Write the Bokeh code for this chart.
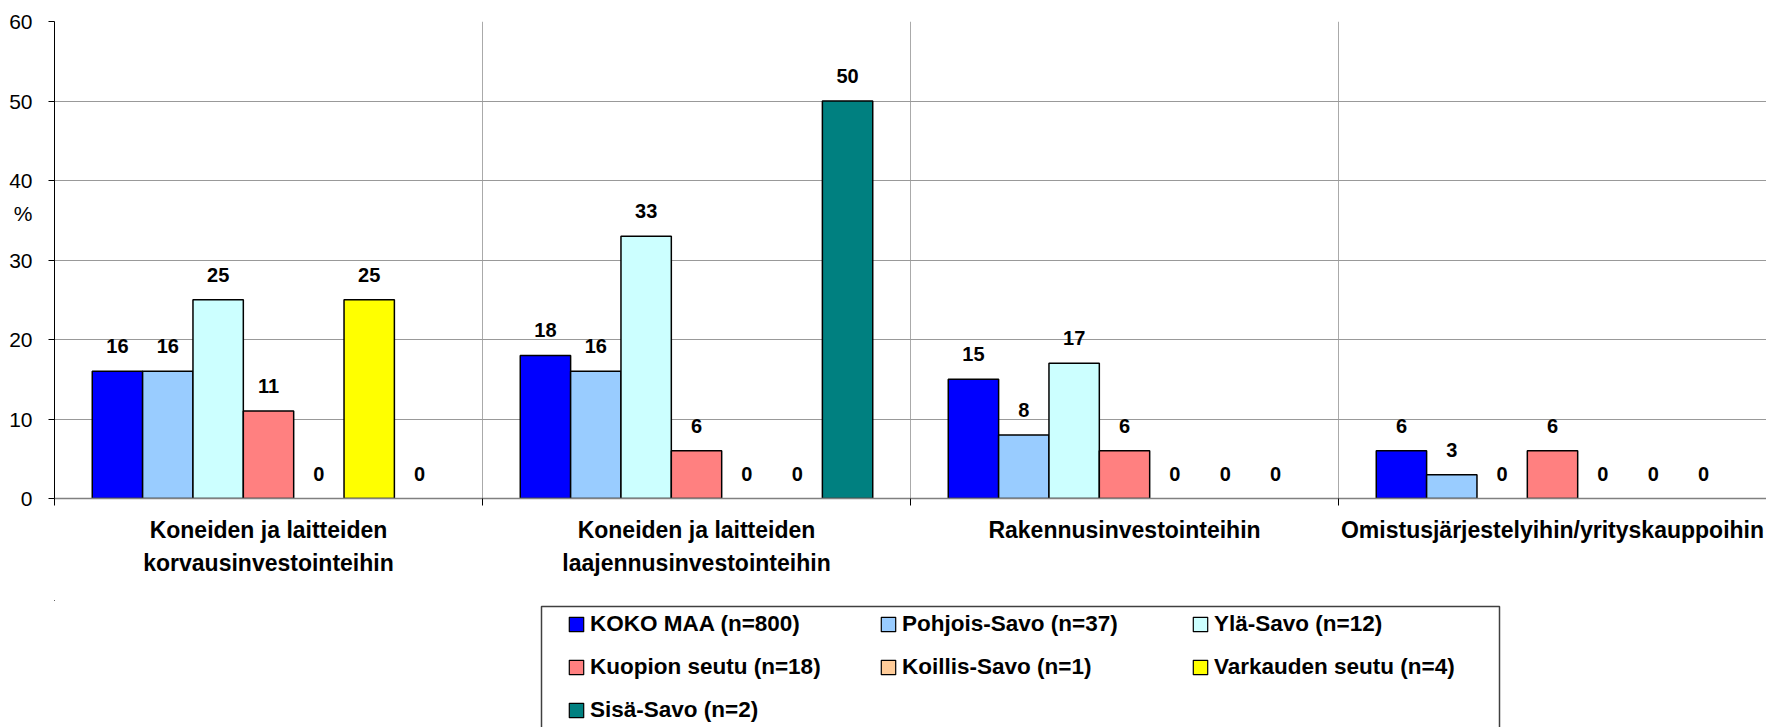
from bokeh.plotting import figure
from bokeh.layouts import column
from bokeh.models import (ColumnDataSource, FixedTicker, Range1d, Legend, LegendItem,
                          BoxAnnotation, CDSView, BooleanFilter)
from bokeh.transform import dodge
from bokeh.core.properties import value
from bokeh.embed import file_html
from bokeh.resources import INLINE

# ---- data ----
categories = ["Koneiden ja laitteiden\nkorvausinvestointeihin",
              "Koneiden ja laitteiden\nlaajennusinvestointeihin",
              "Rakennusinvestointeihin",
              "Omistusjärjestelyihin/yrityskauppoihin"]
series_names = ["KOKO MAA (n=800)", "Pohjois-Savo (n=37)", "Ylä-Savo (n=12)",
                "Kuopion seutu (n=18)", "Koillis-Savo (n=1)", "Varkauden seutu (n=4)",
                "Sisä-Savo (n=2)"]
koko_maa = [16, 18, 15, 6]
pohjois_savo = [16, 16, 8, 3]
yla_savo = [25, 33, 17, 0]
kuopion_seutu = [11, 6, 6, 6]
koillis_savo = [0, 0, 0, 0]
varkauden_seutu = [25, 0, 0, 0]
sisa_savo = [0, 50, 0, 0]
series_values = [koko_maa, pohjois_savo, yla_savo, kuopion_seutu,
                 koillis_savo, varkauden_seutu, sisa_savo]
colors = ["#0000FF", "#99CCFF", "#CCFFFF", "#FF8080", "#FFCC99", "#FFFF00", "#008080"]
y_ticks = [0, 10, 20, 30, 40, 50, 60]
y_unit = "%"

FONT = "Liberation Sans"
LEFT = 54                 # left border of the plot frame (px)
W = 1766
UNIT_POS = 35.85          # vertical position of the "%" unit label
cat_x = [i + 0.5 for i in range(len(categories))]
bounds = [i for i in range(len(categories) + 1)]
bar_w = 1 / 8.5

p = figure(width=W, height=600, x_range=Range1d(0, len(categories)), y_range=Range1d(0, 60),
           output_backend="svg", toolbar_location=None,
           min_border_left=LEFT, min_border_right=0, min_border_top=21, min_border_bottom=102)
p.outline_line_color = None

# x axis
p.xaxis.ticker = FixedTicker(ticks=cat_x, minor_ticks=bounds)
p.xaxis.major_label_overrides = {x: c for x, c in zip(cat_x, categories)}
p.xaxis.axis_line_color = "#808080"
p.xaxis.axis_line_width = 1.5
p.xaxis.major_tick_line_color = None
p.xaxis.major_tick_out = 0
p.xaxis.major_tick_in = 0
p.xaxis.minor_tick_line_color = "black"
p.xaxis.minor_tick_out = 7
p.xaxis.minor_tick_in = 0
p.xaxis.major_label_standoff = 11
p.xaxis.major_label_text_font = FONT
p.xaxis.major_label_text_font_style = "bold"
p.xaxis.major_label_text_font_size = "23px"
p.xaxis.major_label_text_line_height = 1.3
p.xaxis.major_label_text_color = "black"

# y axis (tick marks drawn as minor ticks, "%" unit as an extra labelled tick)
p.yaxis.ticker = FixedTicker(ticks=y_ticks + [UNIT_POS], minor_ticks=y_ticks)
p.yaxis.major_label_overrides = {UNIT_POS: y_unit}
p.yaxis.axis_line_color = "black"
p.yaxis.major_tick_out = 6
p.yaxis.major_tick_in = 0
p.yaxis.major_tick_line_color = None
p.yaxis.minor_tick_out = 6
p.yaxis.minor_tick_in = 0
p.yaxis.minor_tick_line_color = "black"
p.yaxis.major_label_standoff = 16
p.yaxis.major_label_text_font = FONT
p.yaxis.major_label_text_font_size = "21px"
p.yaxis.major_label_text_color = "black"

# grids
p.ygrid.ticker = FixedTicker(ticks=y_ticks)
p.ygrid.grid_line_color = "#999999"
p.xgrid.ticker = FixedTicker(ticks=bounds)
p.xgrid.grid_line_color = "#aaaaaa"

# legend strip below the chart (frame aligned with the chart: pixel-like ranges, y down)
lf = figure(width=W, height=127, output_backend="svg", toolbar_location=None,
            x_axis_type=None, y_axis_type=None,
            x_range=Range1d(LEFT, W), y_range=Range1d(127, 0),
            min_border_left=LEFT, min_border_right=0, min_border_top=0, min_border_bottom=0)
lf.outline_line_color = None
lf.xgrid.visible = False
lf.ygrid.visible = False

items = []
for j, (name, vals, col) in enumerate(zip(series_names, series_values, colors)):
    src = ColumnDataSource(dict(x=cat_x, y=vals, label=[str(v) for v in vals]))
    off = (j - 3) * bar_w
    view = CDSView(filter=BooleanFilter([v > 0 for v in vals]))
    p.vbar(x=dodge("x", off, range=p.x_range), top="y", width=bar_w, source=src, view=view,
           fill_color=col, line_color="black", line_width=1.5)
    p.text(x=dodge("x", off, range=p.x_range), y="y", text="label", source=src,
           text_font=value(FONT), text_font_style="bold", text_font_size="20px",
           text_align="center", text_baseline="alphabetic", y_offset=-25, text_color="black")
    # legend key placeholder (outside the visible range)
    key = lf.vbar(x=[-500], top=[0], width=1, fill_color=col, line_color="black", line_width=1.2)
    items.append(LegendItem(label=name, renderers=[key]))

legend = Legend(items=items, location=(567 - LEFT, 4), orientation="horizontal", ncols=3,
                glyph_width=18, glyph_height=18, label_standoff=5, label_width=272,
                label_height=26, spacing=17, padding=0, border_line_color=None,
                background_fill_alpha=0, label_text_font=FONT,
                label_text_font_style="bold", label_text_font_size="22.5px",
                label_text_color="black")
lf.add_layout(legend)
lf.add_layout(BoxAnnotation(left=541, right=1499, top=6, bottom=300,
                            fill_color=None, fill_alpha=0, line_color="#404040",
                            line_width=1.5, line_alpha=1))

open("out.html", "w").write(file_html(column(p, lf, spacing=0), INLINE))
